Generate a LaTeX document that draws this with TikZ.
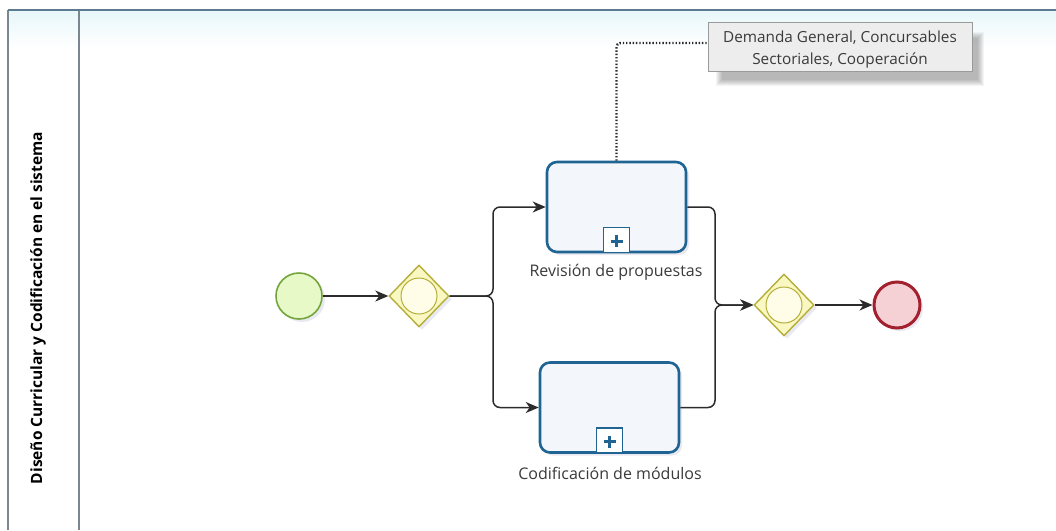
\documentclass[tikz,border=0pt]{standalone}
\usepackage{fontspec}
\setmainfont{Open Sans}
\usetikzlibrary{arrows.meta,shadows,shapes.geometric}

\definecolor{framegray}{HTML}{7A8690}
\definecolor{frametop}{HTML}{5E7A8E}
\definecolor{headtint}{HTML}{E8F7FA}
\definecolor{taskblue}{HTML}{1F6493}
\definecolor{taskfill}{HTML}{F3F7FC}
\definecolor{startline}{HTML}{74A53C}
\definecolor{startfill}{HTML}{E8F9C8}
\definecolor{gwline}{HTML}{B5AE38}
\definecolor{gwfill}{HTML}{FAF8C2}
\definecolor{gwinner}{HTML}{FFFDE8}
\definecolor{endline}{HTML}{A3202E}
\definecolor{endfill}{HTML}{F5D0D5}
\definecolor{flowgray}{HTML}{2B2B2B}
\definecolor{labelgray}{HTML}{3A3A3A}
\definecolor{annfill}{HTML}{EDEDED}
\definecolor{annline}{HTML}{9A9A9A}
\definecolor{shadowc}{HTML}{7C7CA8}

\begin{document}
\begin{tikzpicture}[x=1pt,y=-1pt,
  softshadow/.style={drop shadow={shadow xshift=3pt,shadow yshift=-3pt,opacity=0.16,fill=shadowc}},
  startev/.style={circle,minimum size=46pt,inner sep=0pt,draw=startline,line width=1.6pt,fill=startfill,softshadow},
  endev/.style={circle,minimum size=46pt,inner sep=0pt,draw=endline,line width=3pt,fill=endfill,softshadow},
  gateway/.style={diamond,minimum width=60pt,minimum height=62pt,inner sep=0pt,draw=gwline,line width=1.4pt,fill=gwfill,softshadow},
  gwring/.style={circle,minimum size=36pt,inner sep=0pt,draw=gwline,line width=1pt,fill=gwinner},
  taskbox/.style={rectangle,rounded corners=10pt,minimum width=139pt,minimum height=90pt,draw=taskblue,line width=2.6pt,fill=taskfill,softshadow},
  submark/.style={rectangle,minimum width=26pt,minimum height=25pt,inner sep=0pt,draw=taskblue,line width=1.5pt,fill=white,anchor=south},
  tasklabel/.style={font=\fontsize{16}{19}\selectfont,text=labelgray,inner sep=0pt},
  flow/.style={draw=flowgray,line width=1.5pt,rounded corners=7pt,-{Stealth[length=13pt,width=11pt,inset=4pt]}},
  assoc/.style={draw=flowgray,line width=2.4pt,dash pattern=on 1.4pt off 1.9pt,rounded corners=4pt},
  annot/.style={rectangle,minimum width=264pt,minimum height=49pt,draw=annline,line width=0.8pt,fill=annfill,align=center,
    font=\fontsize{15.3}{22}\selectfont,text=labelgray,inner sep=2pt}
]
\useasboundingbox (0,0) rectangle (1056,530);
\fill[white] (0,0) rectangle (1056,530);

% pool header tint and frame
\shade[top color=headtint,bottom color=white] (9,11) rectangle (1056,48);
\draw[framegray,line width=1.6pt] (8,530) -- (8,10);
\draw[framegray,line width=1.6pt] (79,10) -- (79,530);
\draw[frametop,line width=1.8pt] (8,10) -- (1056,10);

% lane title
\node[rotate=90,font=\bfseries\fontsize{15.5}{19}\selectfont,text=black] (lane) at (38,308)
  {Diseño Curricular y Codificación en el sistema};

% events and gateways
\node[startev] (start) at (299,296) {};
\node[gateway] (gw1) at (419,296) {};
\node[gwring] (gw1r) at (gw1.center) {};
\node[gateway] (gw2) at (784,305) {};
\node[gwring] (gw2r) at (gw2.center) {};
\node[endev] (end) at (897,305) {};

% collapsed sub-processes
\node[taskbox] (t1) at (616.5,207) {};
\node[submark] (m1) at (t1.south) {};
\draw[taskblue,line width=3pt] (m1.center) ++(-6,1) -- ++(12,0);
\draw[taskblue,line width=3pt] (m1.center) ++(0,-5) -- ++(0,12);
\node[tasklabel] (lab1) at (616,272) {Revisión de propuestas};

\node[taskbox] (t2) at (609.5,407.5) {};
\node[submark] (m2) at (t2.south) {};
\draw[taskblue,line width=3pt] (m2.center) ++(-6,1) -- ++(12,0);
\draw[taskblue,line width=3pt] (m2.center) ++(0,-5) -- ++(0,12);
\node[tasklabel] (lab2) at (610,473) {Codificación de módulos};

% sequence flows
\coordinate (split) at (493,296);
\coordinate (merge) at (715,305);
\draw[flow] (start.east) -- (gw1.west);
\draw[flow] (gw1.east) -- (split) |- (t1.west);
\draw[flow] (gw1.east) -- (split) |- (t2.west);
\draw[flow] (t1.east) -| (merge) -- (gw2.west);
\draw[flow] (t2.east) -| (merge) -- (gw2.west);
\draw[flow] (gw2.east) -- (end.west);

% annotation with its soft shadow
\foreach \i in {0,...,6}
  \fill[black,opacity=0.045] (716+\i,32+\i) rectangle (984-\i,86-\i);
\node[annot] (ann) at (840,46.5) {\rule{0pt}{17pt}Demanda General, Concursables\\Sectoriales, Cooperación};
\draw[assoc] (t1.north) |- ([yshift=3.5pt]ann.west);
\end{tikzpicture}
\end{document}
